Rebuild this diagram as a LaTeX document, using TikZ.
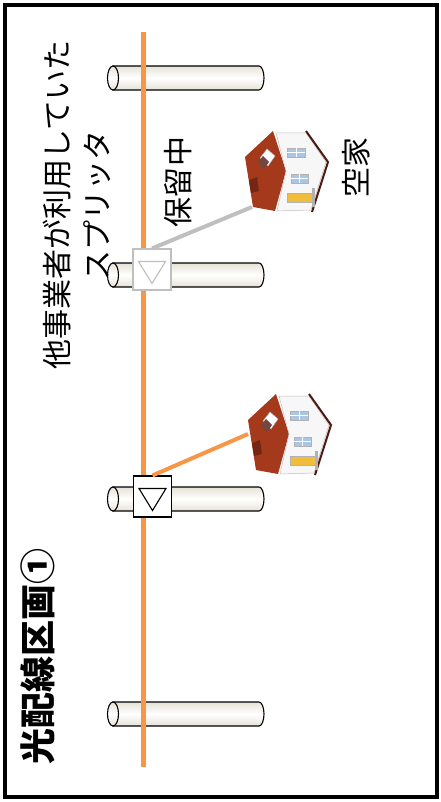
\documentclass[tikz,border=0pt]{standalone}
\usepackage{fontspec}
\setmainfont{Noto Sans CJK JP}
\definecolor{fiberorange}{HTML}{F79646}
\definecolor{lightgr}{HTML}{BFBFBF}
\definecolor{roofred}{HTML}{A5391C}
\definecolor{fascia}{HTML}{4E1A12}
\definecolor{pane}{HTML}{A9C6E4}
\definecolor{doorye}{HTML}{F0BE3C}
\definecolor{poleface}{HTML}{E6E2D6}

\tikzset{
  house/.pic={
    % roof
    \fill[roofred] (5,32) -- (33,6) -- (46,46) -- (35,86) -- (13,82) -- cycle;
    \fill[roofred!70!black] (9,55) -- (17,52) -- (19,66) -- (11,68) -- cycle;
    % walls
    \filldraw[fill=gray!6, draw=gray!50, line width=.5] (36,8) -- (66,8) -- (86,37) -- (71,85) -- (37,86) -- (46,46) -- cycle;
    \draw[fascia, line width=2] (66,6) -- (88,37) -- (72,87);
    % chimney
    \filldraw[fill=white, draw=gray!60] (20,33) -- (27,24) -- (35,31) -- (28,41) -- cycle;
    \fill[fascia!80] (18,37) -- (23,31) -- (29,37) -- (24,44) -- cycle;
    % windows and door
    \filldraw[fill=pane, draw=gray!60] (47,23) rectangle (65,32);
    \draw[white] (56,23) -- (56,32) (47,27.5) -- (65,27.5);
    \filldraw[fill=pane, draw=gray!60] (51,49) rectangle (68,58);
    \draw[white] (59.5,49) -- (59.5,58) (51,53.5) -- (68,53.5);
    \filldraw[fill=doorye, draw=gray!60] (47,68) rectangle (72,77);
    \fill[gray!60] (72,63) rectangle (74.5,82);
  }
}

\begin{document}
\begin{tikzpicture}[x=1pt, y=-1pt,
  pole/.style={draw, line width=1.1, top color=poleface, bottom color=poleface, middle color=white},
  trunk/.style={fiberorange, line width=5},
  splitter/.style={draw, fill=white, minimum width=38, minimum height=41, inner sep=0, line width=1.1},
  lbl/.style={rotate=90, font=\fontsize{30}{40}\selectfont, align=center}]
\useasboundingbox (0,0) rectangle (441,802);
\draw[line width=4] (5,5) rectangle (437,797);

% poles
\foreach \c in {78,275,499,714}{
  \draw[pole] (113,\c-12) -- (259,\c-12) arc[start angle=-90, end angle=90, x radius=5, y radius=12] -- (113,\c+12) -- cycle;
  \draw[pole] (113,\c) ellipse[x radius=5.5, y radius=12];
}

% fiber
\coordinate (t0) at (143,32);
\coordinate (t1) at (143,767);
\draw[trunk] (t0) -- (t1);

\node[splitter, draw=lightgr] (s1) at (152,269.5) {};
\node[splitter] (s2) at (152.5,496.5) {};
\coordinate (h1) at (252,207);
\coordinate (h2) at (248,434);
\draw[lightgr, line width=4] (s1.north) -- (h1);
\draw[fiberorange, line width=4] (s2.north) -- (h2);
\draw[lightgr, line width=1.1] ([shift={(-13.5,-8)}]s1.center) -- ([shift={(13.5,-8)}]s1.center) -- ([shift={(0,14)}]s1.center) -- cycle;
\draw[line width=1.1] ([shift={(-13.5,-8)}]s2.center) -- ([shift={(13.5,-8)}]s2.center) -- ([shift={(0,14)}]s2.center) -- cycle;

\pic at (240,125) {house};
\pic at (243,388) {house};

\node[lbl] (other) at (77,205) {他事業者が利用していた\\スプリッタ};
\node[lbl] (hold) at (178,182) {保留中};
\node[lbl] (vacant) at (356,168) {空家};
\node[lbl, font=\fontsize{36}{36}\selectfont\bfseries] (title) at (38,656) {光配線区画①};
\end{tikzpicture}
\end{document}
